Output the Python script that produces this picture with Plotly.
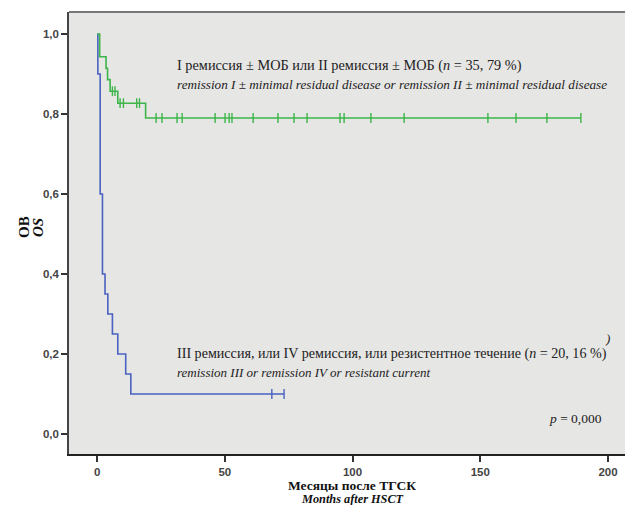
import plotly.graph_objects as go

# Green group: remission I/II ± MRD
times_g = [0, 1.0, 3.5, 4.1, 5.1, 8.1, 19.0, 189.4]
surv_g = [1.0, 0.943, 0.914, 0.886, 0.857, 0.827, 0.79, 0.79]
censor_g = [6.0, 7.0, 9.0, 10.3, 15.5, 16.6, 23.1, 25.4, 31.3, 33.3, 46.2, 50.1,
            51.7, 52.8, 61.1, 70.8, 77.1, 82.2, 95.1, 96.7, 107.2, 120.2, 153.0,
            164.0, 176.1, 189.4]

# Blue group: remission III/IV or resistant
times_b = [0, 0.3, 1.2, 2.1, 3.1, 4.2, 6.0, 8.1, 11.2, 13.2, 73.2]
surv_b = [1.0, 0.9, 0.6, 0.4, 0.35, 0.3, 0.25, 0.2, 0.15, 0.1, 0.1]
censor_b = [68.4, 73.2]

x_ticks = [0, 50, 100, 150, 200]
y_ticks = [0.0, 0.2, 0.4, 0.6, 0.8, 1.0]

GREEN = "#3db54a"
BLUE = "#4a62c0"


def step_at(ts, ss, t):
    v = ss[0]
    for ti, si in zip(ts, ss):
        if ti <= t:
            v = si
    return v


fig = go.Figure()
fig.add_trace(go.Scatter(x=times_b, y=surv_b, mode="lines", line_shape="hv",
                         line=dict(color=BLUE, width=1.6), showlegend=False))
fig.add_trace(go.Scatter(x=censor_b, y=[step_at(times_b, surv_b, t) for t in censor_b],
                         mode="markers",
                         marker=dict(symbol="line-ns", size=7,
                                     line=dict(color=BLUE, width=1.4)),
                         showlegend=False))
fig.add_trace(go.Scatter(x=times_g, y=surv_g, mode="lines", line_shape="hv",
                         line=dict(color=GREEN, width=1.6), showlegend=False))
fig.add_trace(go.Scatter(x=censor_g, y=[step_at(times_g, surv_g, t) for t in censor_g],
                         mode="markers",
                         marker=dict(symbol="line-ns", size=7,
                                     line=dict(color=GREEN, width=1.4)),
                         showlegend=False))

serif = "Liberation Serif"
txt = "#222222"
ann = [
    dict(x=0.188, y=0.880, size=14.3,
         text="I ремиссия ± МОБ или II ремиссия ± МОБ (<i>n</i> = 35, 79 %)"),
    dict(x=0.188, y=0.837, size=13.2,
         text="<i>remission I ± minimal residual disease or remission II ± minimal residual disease</i>"),
    dict(x=0.188, y=0.2285, size=14.1,
         text="III ремиссия, или IV ремиссия, или резистентное течение (<i>n</i> = 20, 16 %)"),
    dict(x=0.188, y=0.1855, size=13.0,
         text="<i>remission III or remission IV or resistant current</i>"),
    dict(x=0.947, y=0.262, size=13.0, text="<i>)</i>"),
]
annotations = []
for a in ann:
    s = a.pop("size")
    a.update(xref="paper", yref="paper", showarrow=False,
             xanchor="left", yanchor="middle",
             font=dict(family=serif, size=s, color=txt))
    annotations.append(a)

annotations += [
    dict(x=0.9486, y=0.0814, xref="paper", yref="paper", showarrow=False,
         xanchor="right", yanchor="middle", text="<i>p</i> = 0,000",
         font=dict(family=serif, size=13.5, color=txt)),
    dict(x=-0.0798, y=0.5136, xref="paper", yref="paper", showarrow=False,
         xanchor="center", yanchor="middle",
         text="<b>ОВ</b>", textangle=-90,
         font=dict(family=serif, size=15, color="#111")),
    dict(x=-0.055, y=0.5136, xref="paper", yref="paper", showarrow=False,
         xanchor="center", yanchor="middle",
         text="<b><i>OS</i></b>", textangle=-90,
         font=dict(family=serif, size=15, color="#111")),
    dict(x=0.502, y=-0.071, xref="paper", yref="paper", showarrow=False,
         xanchor="center", yanchor="middle",
         text="<b>Месяцы после ТГСК</b>",
         font=dict(family=serif, size=13.5, color="#111")),
    dict(x=0.502, y=-0.1015, xref="paper", yref="paper", showarrow=False,
         xanchor="center", yanchor="middle",
         text="<b><i>Months after HSCT</i></b>",
         font=dict(family=serif, size=12.3, color="#111")),
]

# page body has an 8px margin: plot area sits at page x 69-633, y 12-454
fig.update_layout(
    width=625, height=497,
    margin=dict(l=61, r=0, t=4, b=51),
    paper_bgcolor="white", plot_bgcolor="#e6e6e4",
    separators=", ",
    annotations=annotations,
    shapes=[dict(type="line", xref="paper", yref="paper", x0=0, x1=1, y0=1, y1=1,
                 line=dict(color="#777777", width=2))],
)
fig.update_xaxes(range=[-11, 209.8], tickvals=x_ticks, showgrid=False, zeroline=False,
                 showline=True, linecolor="#222", linewidth=1.5,
                 ticks="outside", ticklen=6, tickwidth=1.5, tickcolor="#333",
                 automargin=False,
                 tickfont=dict(family="Liberation Sans", size=11.5, color="#444", weight="bold"))
fig.update_yaxes(range=[-0.05, 1.055], tickvals=y_ticks, tickformat=".1f",
                 showgrid=False, zeroline=False,
                 showline=True, linecolor="#444", linewidth=1.5,
                 ticks="outside", ticklen=6, tickwidth=1.5, tickcolor="#333",
                 automargin=False,
                 tickfont=dict(family="Liberation Sans", size=11.5, color="#444", weight="bold"))

fig.write_html("out.html")
